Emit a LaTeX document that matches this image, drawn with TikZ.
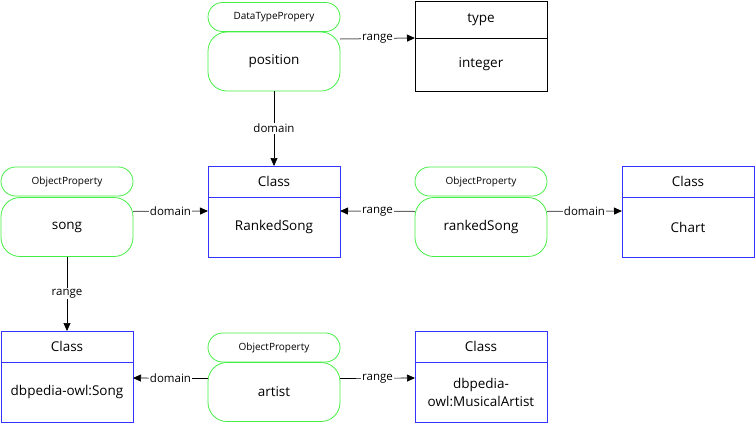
\documentclass[tikz,border=0pt]{standalone}
\usepackage{fontspec}
\setmainfont{Open Sans}
\usetikzlibrary{arrows.meta}
\definecolor{pillgreen}{HTML}{44EE44}
\definecolor{classblue}{HTML}{3333FF}
\definecolor{edgegray}{HTML}{666666}
\begin{document}
\begin{tikzpicture}[x=1pt,y=-1pt,
  base/.style={inner sep=0pt, outer sep=0pt, minimum width=132pt, line width=0.8pt, align=center},
  pill/.style={base, draw=pillgreen, rounded corners=14.5pt, minimum height=29pt, font=\fontsize{10}{11}\selectfont},
  pillbody/.style={base, draw=pillgreen, rounded corners=19pt, minimum height=59pt, font=\fontsize{13.5}{16}\selectfont},
  clshead/.style={base, draw=classblue, minimum height=31pt, font=\fontsize{13.5}{16}\selectfont},
  clsbody/.style={base, draw=classblue, minimum height=60pt, font=\fontsize{13.5}{18}\selectfont},
  typehead/.style={base, draw=black, minimum height=37pt, font=\fontsize{13.5}{16}\selectfont},
  typebody/.style={base, draw=black, minimum height=53pt, font=\fontsize{13.5}{16}\selectfont},
  conn/.style={draw=black, line width=0.7pt, -{Triangle[length=8pt,width=7pt,color=black]}},
  conng/.style={conn, draw=edgegray, line width=1pt},
  elabel/.style={fill=white, inner sep=1pt, font=\fontsize{11.5}{13}\selectfont, text=black}
]
\useasboundingbox (0,0) rectangle (756,424);

% position
\node[pill] (posh) at (274,17) {DataTypePropery};
\node[pillbody] (posb) at (274,61.5) {position};
% type
\node[typehead] (typeh) at (481,19.5) {type};
\node[typebody] (typeb) at (481,64.5) {integer};

% song
\node[pill] (songh) at (67,181.5) {ObjectProperty};
\node[pillbody] (songb) at (67,227) {song};
% RankedSong class
\node[clshead] (rsh) at (274,181.5) {Class};
\node[clsbody] (rsb) at (274,227) {RankedSong};
% rankedSong property
\node[pill] (rkh) at (481,181.5) {ObjectProperty};
\node[pillbody] (rkb) at (481,227) {rankedSong};
% Chart
\node[clshead] (chh) at (688,181.5) {Class};
\node[clsbody] (chb) at (688,227) {Chart};

% dbpedia-owl:Song
\node[clshead] (dsh) at (67,346.5) {Class};
\node[clsbody] (dsb) at (67,392) {dbpedia-owl:Song};
% artist
\node[pill] (arh) at (274,347.5) {ObjectProperty};
\node[pillbody] (arb) at (274,392) {artist};
% MusicalArtist
\node[clshead] (mah) at (481,346.5) {Class};
\node[clsbody] (mab) at (481,392) {dbpedia-\\owl:MusicalArtist};

% connectors
\draw[conng] ([yshift=-7pt]posb.north east) -- node[elabel]{range} (typeh.south west);
\draw[conn] (posb.south) -- node[elabel, pos=0.5]{domain} (rsh.north);
\draw[conng] ([yshift=-14pt]songb.north east) -- node[elabel]{domain} ([yshift=-14pt]rsb.north west);
\draw[conng] ([yshift=-14pt]rkb.north west) -- node[elabel]{range} ([yshift=-14pt]rsb.north east);
\draw[conng] ([yshift=-14pt]rkb.north east) -- node[elabel]{domain} ([yshift=-14pt]chb.north west);
\draw[conn] (songb.south) -- node[elabel]{range} (dsh.north);
\draw[conn] ([yshift=-16pt]arb.north west) -- node[elabel]{domain} ([yshift=-16pt]dsb.north east);
\draw[conn] ([yshift=-16pt]arb.north east) -- node[elabel]{range} ([yshift=-16pt]mab.north west);
\end{tikzpicture}
\end{document}
